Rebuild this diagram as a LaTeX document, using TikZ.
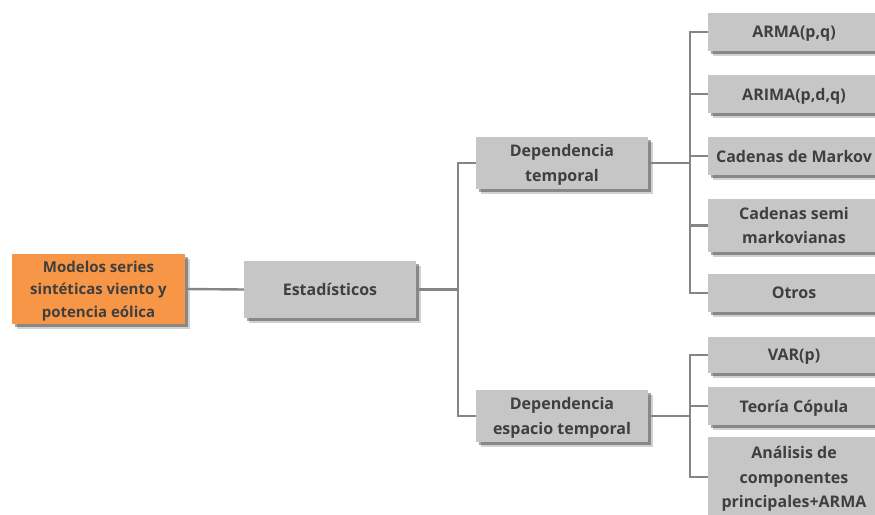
\documentclass[tikz,border=0pt]{standalone}
\usepackage{fontspec}
\setmainfont{Open Sans}
\usetikzlibrary{shadows}
\definecolor{boxgray}{HTML}{C6C6C6}
\definecolor{rootorange}{HTML}{F79646}
\definecolor{txt}{HTML}{3F3F3F}
\definecolor{wire}{HTML}{858585}
\tikzset{
  mybox/.style={fill=boxgray, text=txt, align=center, inner sep=2pt, text depth=0pt,
    font=\bfseries\fontsize{16}{24.5}\selectfont,
    drop shadow={shadow xshift=4.5pt, shadow yshift=-4.5pt, opacity=0.18, fill=black},
    drop shadow={shadow xshift=3pt, shadow yshift=-3pt, opacity=0.35, fill=black}},
  rootbox/.style={mybox, fill=rootorange, font=\bfseries\fontsize{15}{22.5}\selectfont},
  wire/.style={draw=wire, line width=2.4pt},
}
\begin{document}
\begin{tikzpicture}[x=1pt, y=-1pt]
\useasboundingbox (0,0) rectangle (875,514);
% root and first level
\node[rootbox, minimum width=173pt, minimum height=70pt] (root) at (98.5,289) {Modelos series\\sintéticas viento y\\potencia eólica};
\node[mybox, minimum width=172pt, minimum height=57pt] (est) at (330,289.5) {Estadísticos};
% second level
\node[mybox, minimum width=172pt, minimum height=52pt] (dt) at (562,163) {Dependencia\\temporal};
\node[mybox, minimum width=172pt, minimum height=52pt] (de) at (562,416) {Dependencia\\espacio temporal};
% leaves of temporal dependence
\node[mybox, minimum width=172pt, minimum height=38pt] (arma) at (794,32) {ARMA(p,q)};
\node[mybox, minimum width=172pt, minimum height=38pt] (arima) at (794,94) {ARIMA(p,d,q)};
\node[mybox, minimum width=172pt, minimum height=38pt] (markov) at (794,156) {Cadenas de Markov};
\node[mybox, minimum width=172pt, minimum height=53pt] (semi) at (794,225.5) {Cadenas semi\\markovianas};
\node[mybox, minimum width=172pt, minimum height=38pt] (otros) at (794,293) {Otros};
% leaves of space-time dependence
\node[mybox, minimum width=172pt, minimum height=36pt] (var) at (794,355) {VAR(p)};
\node[mybox, minimum width=172pt, minimum height=38pt] (copula) at (794,406) {Teoría Cópula};
\node[mybox, minimum width=172pt, minimum height=80pt] (acp) at (794,477) {Análisis de\\componentes\\principales+ARMA};
% connectors
\draw[wire] (root.east) -- (est.west);
\draw[wire] (est.east) -- ++(42,0) coordinate (b1);
\draw[wire] (dt.west) -| (b1) |- (de.west);
\draw[wire] (dt.east) -- ++(42,0) coordinate (b2);
\draw[wire] (arma.west) -| (b2) |- (otros.west);
\draw[wire] (arima.west) -- (arima.west -| b2);
\draw[wire] (markov.west) -- (markov.west -| b2);
\draw[wire] (semi.west) -- (semi.west -| b2);
\draw[wire] (de.east) -- ++(42,0) coordinate (b3);
\draw[wire] (var.west) -| (b3) |- (acp.west);
\draw[wire] (copula.west) -- (copula.west -| b3);
\end{tikzpicture}
\end{document}
